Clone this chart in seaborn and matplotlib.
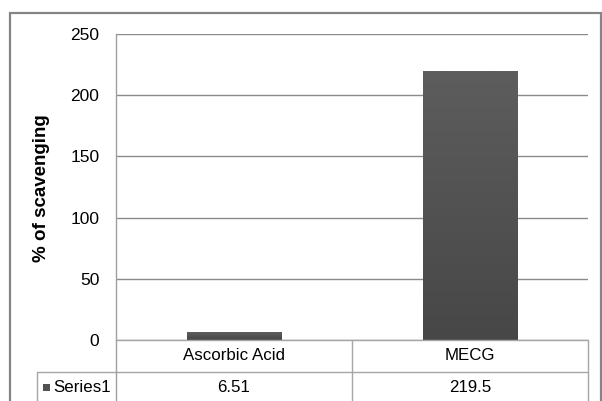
import matplotlib
matplotlib.use("Agg")
import matplotlib.pyplot as plt
import matplotlib.transforms as mtransforms
from matplotlib.lines import Line2D
from matplotlib.patches import Rectangle
from matplotlib.colors import LinearSegmentedColormap
import numpy as np
import seaborn as sns
import pandas as pd

# ---- data ----
categories = ["Ascorbic Acid", "MECG"]
values = [6.51, 219.5]
value_labels = ["6.51", "219.5"]
series_name = "Series1"
y_label = "% of scavenging"
y_ticks = [0, 50, 100, 150, 200, 250]

sns.set_theme(style="white")
plt.rcParams["font.family"] = ["Liberation Sans", "DejaVu Sans"]

W, H = 602, 401
fig = plt.figure(figsize=(W / 100, H / 100), dpi=100)

def fx(x):
    return x / W

def fy(y):
    return 1 - y / H

left, right, top, bottom = 116, 588, 34, 340
ax = fig.add_axes([fx(left), fy(bottom), fx(right) - fx(left), fy(top) - fy(bottom)])

df = pd.DataFrame({"cat": categories, "val": values})
bar_color = "#525252"
sns.barplot(data=df, x="cat", y="val", color=bar_color, width=0.4,
            saturation=1, ax=ax, zorder=3, edgecolor="none")

ax.set_ylim(0, 250)
ax.set_xlim(-0.5, 1.5)

# vertical gradient fill inside each bar
cmap = LinearSegmentedColormap.from_list("g", ["#474747", "#5d5d5d"])
grad = np.linspace(0, 1, 256).reshape(-1, 1)
for p in list(ax.patches):
    x0, y0 = p.get_x(), p.get_y()
    w, h = p.get_width(), p.get_height()
    im = ax.imshow(grad, cmap=cmap, origin="lower", aspect="auto",
                   extent=[x0, x0 + w, y0, y0 + h], zorder=4)
    im.set_clip_path(p)
ax.set_ylim(0, 250)
ax.set_xlim(-0.5, 1.5)

ax.set_yticks(y_ticks)
ax.set_yticklabels([str(t) for t in y_ticks], fontsize=12.5, color="#000000")
ax.tick_params(axis="y", length=0, pad=12)
ax.tick_params(axis="x", length=0, labelbottom=False)
ax.set_xlabel("")
ax.set_ylabel("")

grid_color = "#8a8a8a"
ax.yaxis.grid(True, color=grid_color, linewidth=1.0, zorder=0)
ax.xaxis.grid(False)
ax.set_axisbelow(True)
for s in ["top", "right", "bottom"]:
    ax.spines[s].set_visible(False)
ax.spines["left"].set_color("#a0a0a0")
ax.spines["left"].set_linewidth(1.0)

fig.text(fx(42), fy(188), y_label, rotation=90, ha="center", va="center",
         fontsize=13.5, fontweight="bold", color="#000000")

# ---- data table below the plot ----
tcol = "#a6a6a6"
row1_top, row1_bot, row2_bot = 340, 372, 410
def hline(x0, x1, y, color=tcol, lw=1.0):
    fig.add_artist(Line2D([fx(x0), fx(x1)], [fy(y), fy(y)], color=color, lw=lw,
                          transform=fig.transFigure))
def vline(x, y0, y1, color=tcol, lw=1.0):
    fig.add_artist(Line2D([fx(x), fx(x)], [fy(y0), fy(y1)], color=color, lw=lw,
                          transform=fig.transFigure))

hline(left, right, row1_top)
hline(37, right, row1_bot)
vline(left, row1_top, row2_bot, color="#a0a0a0")
vline(352, row1_top, row2_bot)
vline(right, row1_top, row2_bot)
vline(37, row1_bot, row2_bot)

blend = mtransforms.blended_transform_factory(ax.transData, fig.transFigure)
for i, (c, v) in enumerate(zip(categories, value_labels)):
    fig.text(i, fy((row1_top + row1_bot) / 2), c, transform=blend,
             ha="center", va="center", fontsize=12.2, color="#000000")
    fig.text(i, fy(387), v, transform=blend,
             ha="center", va="center", fontsize=12.2, color="#000000")

fig.add_artist(Rectangle((fx(43), fy(391)), fx(7), fy(384) - fy(391),
                         transform=fig.transFigure, color=bar_color, lw=0))
fig.text(fx(53), fy(387), series_name, ha="left", va="center", fontsize=12.2,
         color="#000000")

# ---- outer chart border ----
fig.add_artist(Rectangle((fx(10), fy(420)), fx(601) - fx(10), fy(13) - fy(420),
                         transform=fig.transFigure, fill=False,
                         edgecolor="#858585", lw=1.6))

fig.savefig("out.png", dpi=100)
